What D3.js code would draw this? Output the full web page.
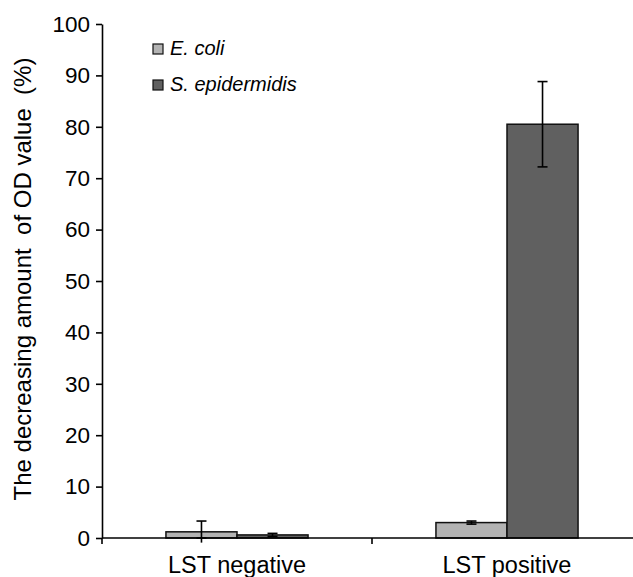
<!DOCTYPE html>
<html lang="en">
	<head>
		<meta charset="utf-8">
		<title>Decreasing amount of OD value</title>
		<script type="text/javascript" src="https://cdn.jsdelivr.net/npm/d3@7"></script>
		<style type="text/css">
			body { margin: 0; background: #fff; }
			text { font-family: Arial, "Liberation Sans", sans-serif; fill: #000; }
		</style>
	</head>
	<body>
		<script type="text/javascript">

			//Width and height
			let w = 633;
			let h = 577;

			//Data
			let categories = ["LST negative", "LST positive"];
			let series = ["E. coli", "S. epidermidis"];
			let ecoliValues = [1.2, 3.0];
			let ecoliErrors = [2.1, 0.3];
			let sepiValues = [0.6, 80.5];
			let sepiErrors = [0.3, 8.3];
			let yTicks = [0, 10, 20, 30, 40, 50, 60, 70, 80, 90, 100];
			let colors = ["#b3b3b3", "#606060"];

			let values = [ecoliValues, sepiValues];
			let errors = [ecoliErrors, sepiErrors];

			let padLeft = 102, padTop = 24, axisY = 538;

			//Scales
			let x0 = d3.scaleBand()
						.domain(categories)
						.range([padLeft, padLeft + 540])
						.padding(0);

			let x1 = d3.scaleBand()
						.domain(series)
						.range([0, x0.bandwidth()])
						.paddingInner(0)
						.paddingOuter(0.9);

			let y = d3.scaleLinear()
						.domain([0, 100])
						.range([axisY, padTop]);

			//Create SVG element
			let svg = d3.select("body")
						.append("svg")
						  .attr("width", w)
						  .attr("height", h)
						  .style("display", "block");

			//Bars
			let rows = [];
			categories.forEach((c, i) => {
				series.forEach((s, j) => {
					rows.push({cat: c, ser: s, j: j, v: values[j][i], e: errors[j][i]});
				});
			});

			svg.selectAll("rect.bar")
				.data(rows)
				.enter()
			  .append("rect")
				.attr("class", "bar")
				.attr("x", d => x0(d.cat) + x1(d.ser))
				.attr("y", d => y(d.v))
				.attr("width", x1.bandwidth())
				.attr("height", d => y(0) - y(d.v))
				.style("fill", d => colors[d.j])
				.style("stroke", "#111")
				.style("stroke-width", 1.5);

			//Error bars
			let eb = svg.selectAll("g.err")
				.data(rows)
				.enter()
			  .append("g")
				.attr("class", "err")
				.attr("transform", d => `translate(${x0(d.cat) + x1(d.ser) + x1.bandwidth() / 2},0)`)
				.style("stroke", "#000")
				.style("stroke-width", 1.6);

			eb.append("line")
				.attr("y1", d => y(d.v - d.e))
				.attr("y2", d => y(d.v + d.e));
			eb.append("line")
				.attr("x1", -5).attr("x2", 5)
				.attr("y1", d => y(d.v + d.e))
				.attr("y2", d => y(d.v + d.e));
			eb.append("line")
				.attr("x1", -5).attr("x2", 5)
				.attr("y1", d => y(Math.max(0, d.v - d.e)))
				.attr("y2", d => y(Math.max(0, d.v - d.e)));

			//Y axis
			let yAxis = svg.append("g")
				.attr("transform", `translate(${padLeft},0)`)
				.call(d3.axisLeft(y).tickValues(yTicks).tickSize(6).tickSizeOuter(0).tickPadding(6));
			yAxis.select(".domain").style("stroke", "#000").style("stroke-width", 1.6);
			yAxis.selectAll(".tick line").style("stroke", "#000").style("stroke-width", 1.6);
			yAxis.selectAll(".tick text")
				.style("font-size", "22.5px")
				.style("font-family", "Arial, 'Liberation Sans', sans-serif");

			//X axis
			svg.append("line")
				.attr("x1", padLeft).attr("x2", w)
				.attr("y1", axisY).attr("y2", axisY)
				.style("stroke", "#000")
				.style("stroke-width", 1.6);

			let xTickPos = categories.map(c => x0(c)).concat([x0(categories[1]) + x0.bandwidth()]);
			svg.selectAll("line.xtick")
				.data(xTickPos)
				.enter()
			  .append("line")
				.attr("class", "xtick")
				.attr("x1", d => d).attr("x2", d => d)
				.attr("y1", axisY).attr("y2", axisY + 6)
				.style("stroke", "#000")
				.style("stroke-width", 1.6);

			svg.selectAll("text.xlab")
				.data(categories)
				.enter()
			  .append("text")
				.attr("class", "xlab")
				.attr("x", d => x0(d) + x0.bandwidth() / 2)
				.attr("y", 573)
				.attr("text-anchor", "middle")
				.style("font-size", "23.5px")
				.text(d => d);

			//Y axis title
			svg.append("text")
				.attr("transform", "translate(31,279) rotate(-90)")
				.attr("text-anchor", "middle")
				.style("font-size", "24px")
				.style("white-space", "pre")
				.text("The decreasing amount  of OD value  (%)");

			//Legend
			let legend = svg.selectAll("g.legend")
				.data(series)
				.enter()
			  .append("g")
				.attr("class", "legend")
				.attr("transform", (d, i) => `translate(153,${44 + i * 36})`);

			legend.append("rect")
				.attr("width", 10)
				.attr("height", 10)
				.style("fill", (d, i) => colors[i])
				.style("stroke", "#111")
				.style("stroke-width", 1.2);

			legend.append("text")
				.attr("x", 17)
				.attr("y", 11)
				.style("font-size", "20px")
				.style("font-style", "italic")
				.text(d => d);

		</script>
	</body>
</html>
